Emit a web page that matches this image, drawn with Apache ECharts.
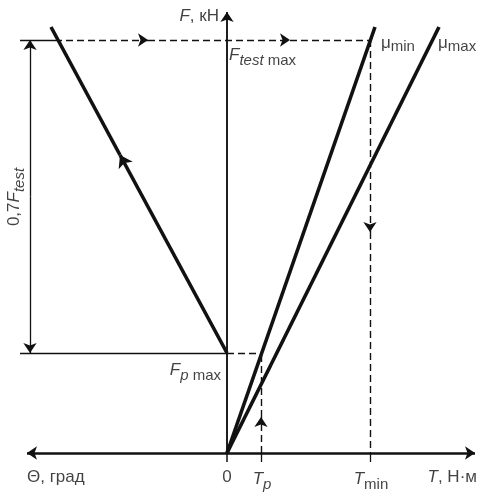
<!DOCTYPE html>
<html>
<head>
<meta charset="utf-8">
<script src="https://cdn.jsdelivr.net/npm/echarts@6/dist/echarts.min.js"></script>
<style>html,body{margin:0;padding:0;background:#fff}#c{width:487px;height:498px}</style>
</head>
<body>
<div id="c"></div>
<script>
// ---- values (arbitrary units, origin = 0) ----
const tAxis = [-200, 248];          // Θ (left) ... T (right) axis extent
const fAxisTop = 441;               // top of F axis
const tickDepth = -9;               // tick marks under the T axis
const fTestMax = 413;               // F_test max
const fPMax = 100;                  // F_p max
const tP = 34;                      // T_p
const tMin = 143;                   // T_min
const muMinEnd = [148, 426];        // end of μmin line
const muMaxEnd = [212, 426];        // end of μmax line
const loadPath = [[0, 100], [-107, 298], [-176, 426]]; // Θ loading line (arrow at middle)
const dimX = -197;                  // 0,7F_test dimension line
const leftExt = -207;               // left end of extension lines
const topSolidEnd = -172;           // solid part of top line
const topArrowsX = [-79, 63];       // arrows on top dashed line
const tMinArrowY = 221;             // arrow on T_min dashed line
const tPArrowY = 36;                // arrow on T_p dashed line

const FONT = 'Liberation Sans';
const ink = '#111';

function seg(a, b) { return { coords: [a, b] }; }

const axisPlain = [ seg([0, tickDepth], [0, fAxisTop]) ];
const axisBoth = [ seg([tAxis[1], 0], [tAxis[0], 0]) ];

const thickPlain = [
  seg([0, 0], muMinEnd),
  seg([0, 0], muMaxEnd),
  seg(loadPath[1], loadPath[2])
];
const thickArrow = [ seg(loadPath[0], loadPath[1]) ];

const thinPlain = [
  seg([leftExt, fTestMax], [topSolidEnd, fTestMax]),
  seg([leftExt, fPMax], [0, fPMax]),
  seg([tP, 0], [tP, tickDepth]),
  seg([tMin, 0], [tMin, tickDepth])
];
const dimMid = (fPMax + fTestMax) / 2;
const thinArrow = [
  seg([dimX, dimMid], [dimX, fTestMax]),
  seg([dimX, dimMid], [dimX, fPMax])
];

const dashPlain = [
  seg([topArrowsX[1], fTestMax], [tMin, fTestMax]),
  seg([tMin, tMinArrowY], [tMin, 0]),
  seg([0, fPMax], [tP, fPMax]),
  seg([tP, tPArrowY], [tP, fPMax])
];
const dashArrow = [
  seg([topSolidEnd, fTestMax], [topArrowsX[0], fTestMax]),
  seg([topArrowsX[0], fTestMax], [topArrowsX[1], fTestMax]),
  seg([tMin, fTestMax], [tMin, tMinArrowY]),
  seg([tP, 0], [tP, tPArrowY])
];

const rich = {
  i: { fontFamily: FONT, fontStyle: 'italic', fontSize: 17, color: ink },
  n: { fontFamily: FONT, fontSize: 17, color: ink },
  m: { fontFamily: FONT, fontSize: 17, color: ink },
  si: { fontFamily: FONT, fontStyle: 'italic', fontSize: 15, color: ink, padding: [12, 0, 0, 0] },
  sn: { fontFamily: FONT, fontSize: 15, color: ink, padding: [12, 0, 0, 0] },
  mn: { fontFamily: FONT, fontSize: 15, color: ink, padding: [7, 0, 0, 0] }
};

const labels = [
  { value: [-8, 437], text: '{i|F}{n|, кН}', align: 'right' },
  { value: [2, 398], text: '{i|F}{si|test}{sn| max}', align: 'left' },
  { value: [154, 410], text: '{m|μ}{mn|min}', align: 'left' },
  { value: [211, 410], text: '{m|μ}{mn|max}', align: 'left' },
  { value: [-6, 83], text: '{i|F}{si|p}{sn| max}', align: 'right' },
  { value: [-200, -24], text: '{n|Θ, град}', align: 'left' },
  { value: [0, -24], text: '{n|0}', align: 'center' },
  { value: [35, -26], text: '{i|T}{si|p}', align: 'center' },
  { value: [144, -26], text: '{i|T}{sn|min}', align: 'center' },
  { value: [250, -24], text: '{i|T}{n|, Н·м}', align: 'right' },
  { value: [-213, 256], text: '{n|0,7}{i|F}{si|test}', align: 'center', rotate: 90 }
];

function linesSeries(data, width, dashed, arrow) {
  return {
    type: 'lines', coordinateSystem: 'cartesian2d', silent: true,
    symbol: arrow === 'both' ? ['arrow', 'arrow'] : (arrow ? ['none', 'arrow'] : 'none'),
    symbolSize: arrow ? (width > 2.5 ? 12 : 10) : 0,
    lineStyle: { color: ink, width: width, type: dashed ? [7, 4] : 'solid', opacity: 1, curveness: 0 },
    data: data
  };
}

const chart = echarts.init(document.getElementById('c'), null, { renderer: 'canvas' });
chart.setOption({
  animation: false,
  backgroundColor: '#fff',
  grid: { left: 0, right: 0, top: 0, bottom: 0 },
  xAxis: { type: 'value', min: -227, max: 260, show: false },
  yAxis: { type: 'value', min: -45, max: 453, show: false },
  series: [
    linesSeries(axisPlain, 1.5, false, false),
    linesSeries([seg([0, 0], [0, fAxisTop])], 1.5, false, true),
    linesSeries(axisBoth, 2.5, false, 'both'),
    linesSeries(thinPlain, 1.3, false, false),
    linesSeries(thinArrow, 1.3, false, true),
    linesSeries(dashPlain, 1.4, true, false),
    linesSeries(dashArrow, 1.4, true, true),
    linesSeries(thickPlain, 3.6, false, false),
    linesSeries(thickArrow, 3.6, false, true),
    {
      type: 'scatter', symbolSize: 0, silent: true,
      data: labels.map(l => ({
        value: l.value,
        label: {
          show: true, position: [0, 0], formatter: l.text, rich: rich,
          align: l.align, verticalAlign: 'middle', rotate: l.rotate || 0
        }
      })),
      label: { show: true }
    }
  ]
});
</script>
</body>
</html>
